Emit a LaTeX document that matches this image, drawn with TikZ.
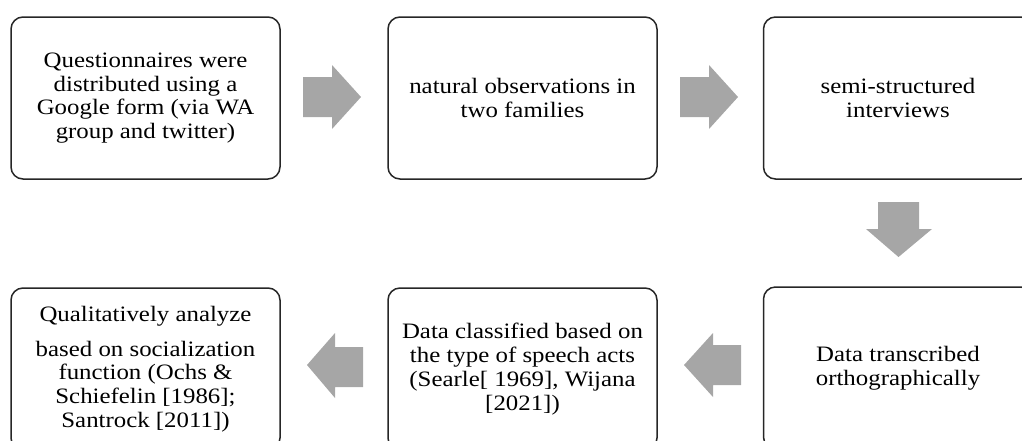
\documentclass[tikz,border=0pt]{standalone}
\usepackage{fontspec}
\setmainfont{Liberation Serif}[FakeStretch=1.13]
\definecolor{arrowgray}{HTML}{A6A6A6}
\definecolor{boxline}{HTML}{262626}
\tikzset{
  stepbox/.style={draw=boxline, line width=1.5pt, rounded corners=12pt,
    minimum width=269pt, minimum height=162pt, align=center, inner sep=4pt,
    font=\fontsize{22}{23.8}\selectfont},
  blockarrow/.style={fill=arrowgray, draw=none}
}
\begin{document}
\begin{tikzpicture}[x=1pt, y=-1pt]
\useasboundingbox (0,0) rectangle (1022,440);
\clip (0,0) rectangle (1022,440);
% top row
\node[stepbox] (b1) at (145.5,98) {Questionnaires were\\distributed using a\\Google form (via WA\\group and twitter)};
\node[stepbox] (b2) at (522.5,98) {natural observations in\\two families};
\node[stepbox] (b3) at (898,98) {semi-structured\\interviews};
% bottom row
\node[stepbox] (b6) at (898,368) {Data transcribed\\orthographically};
\node[stepbox] (b5) at (522.5,369) {Data classified based on\\the type of speech acts\\(Searle[ 1969], Wijana\\{[2021]})};
\node[stepbox] (b4) at (145.5,369) {Qualitatively analyze\\[11pt]based on socialization\\function (Ochs \&\\Schiefelin [1986];\\Santrock [2011])};
% block arrows
\fill[blockarrow] (303,77) -- (332,77) -- (332,65) -- (361,97) -- (332,129) -- (332,117) -- (303,117) -- cycle;
\fill[blockarrow] (680,77) -- (709,77) -- (709,65) -- (738,97) -- (709,129) -- (709,117) -- (680,117) -- cycle;
\fill[blockarrow] (878,202) -- (919,202) -- (919,229) -- (932,229) -- (898.5,257) -- (866,229) -- (878,229) -- cycle;
\fill[blockarrow] (741,345) -- (713,345) -- (713,333) -- (684,365) -- (713,397) -- (713,385) -- (741,385) -- cycle;
\fill[blockarrow] (363,347) -- (335,347) -- (335,333) -- (307,365) -- (335,398) -- (335,387) -- (363,387) -- cycle;
\end{tikzpicture}
\end{document}
